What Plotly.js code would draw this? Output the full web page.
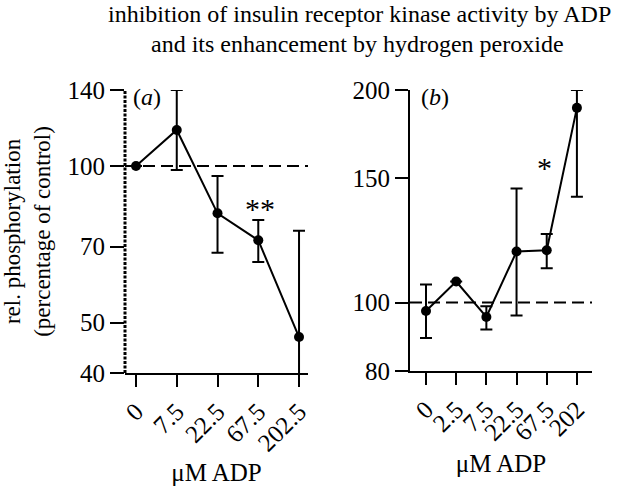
<!DOCTYPE html>
<html>
<head>
<meta charset="utf-8">
<script src="https://cdn.plot.ly/plotly-3.0.1.min.js"></script>
<style>html,body{margin:0;padding:0;background:#fff;}</style>
</head>
<body>
<div id="chart" style="width:621px;height:486px;"></div>
<script>
// Panel (a): ADP alone
const catsA = ['0', '7.5', '22.5', '67.5', '202.5'];
const valsA = [100, 117.3, 81.1, 72.0, 46.9];
const errUpA = [0, 22.7, 14.6, 6.7, 28.2];
const errDownA = [0, 19.1, 13.0, 6.6, 28.2];

// Panel (b): ADP with hydrogen peroxide
const catsB = ['0', '2.5', '7.5', '22.5', '67.5', '202'];
const valsB = [97.3, 107.1, 95.4, 118.1, 118.6, 188.7];
const errUpB = [8.8, 0, 3.4, 26.9, 6.5, 11.3];
const errDownB = [8.2, 0, 3.8, 22.2, 6.8, 47.5];

const ticksA = [40, 50, 70, 100, 140];
const ticksB = [80, 100, 150, 200];

const titleLines = ['inhibition of insulin receptor kinase activity by ADP',
                    'and its enhancement by hydrogen peroxide'];

const FONT = 'Liberation Serif';
const W = 621, H = 486;
const px = v => v / W;
const py = v => (H - v) / H;

function trace(x, y, up, down, xa, ya) {
  return {
    x: x, y: y, xaxis: xa, yaxis: ya,
    type: 'scatter', mode: 'lines+markers',
    line: {color: '#000', width: 2},
    marker: {color: '#000', size: 10},
    error_y: {type: 'data', symmetric: false, array: up, arrayminus: down,
              color: '#000', thickness: 2, width: 6},
    hoverinfo: 'x+y'
  };
}

const data = [
  trace(catsA, valsA, errUpA, errDownA, 'x', 'y'),
  trace(catsB, valsB, errUpB, errDownB, 'x2', 'y2')
];

const xCommon = {
  type: 'category', showline: true, linewidth: 2, linecolor: '#000',
  ticks: 'outside', ticklen: 12, tickwidth: 2, tickcolor: '#000',
  tickangle: -45, showgrid: false, zeroline: false, fixedrange: true,
  tickfont: {family: FONT, size: 25, color: '#000'}
};
const yCommon = {
  type: 'log', ticks: 'outside', tickwidth: 2, tickcolor: '#000',
  showgrid: false, zeroline: false, fixedrange: true,
  tickfont: {family: FONT, size: 25, color: '#000'}
};
const xTitleFont = {family: FONT, size: 25, color: '#000'};

const layout = {
  width: W, height: H,
  margin: {l: 0, r: 0, t: 0, b: 0},
  paper_bgcolor: '#fff', plot_bgcolor: '#fff',
  showlegend: false,
  font: {family: FONT, color: '#000'},
  xaxis: Object.assign({}, xCommon, {
    domain: [px(125), px(308)], range: [-0.27, 4.22], anchor: 'y',
    title: {text: 'μM ADP', standoff: 10, font: xTitleFont}
  }),
  yaxis: Object.assign({}, yCommon, {
    domain: [py(373), py(90)], anchor: 'x',
    range: [Math.log10(40), Math.log10(140)],
    tickvals: ticksA, ticktext: ticksA.map(String),
    ticklen: 14, showline: false,
    title: {text: 'rel. phosphorylation<br>(percentage of control)', standoff: 11,
            font: {family: FONT, size: 23, color: '#000'}}
  }),
  xaxis2: Object.assign({}, xCommon, {
    domain: [px(410), px(592)], range: [-0.53, 5.5], anchor: 'y2',
    title: {text: 'μM ADP', standoff: 10, font: xTitleFont}
  }),
  yaxis2: Object.assign({}, yCommon, {
    domain: [py(371), py(90)], anchor: 'x2',
    range: [Math.log10(80), Math.log10(200)],
    tickvals: ticksB, ticktext: ticksB.map(String),
    ticklen: 13, showline: true, linewidth: 2, linecolor: '#000'
  }),
  shapes: [
    {type: 'line', xref: 'x domain', yref: 'y', x0: 0, x1: 1, y0: 100, y1: 100,
     line: {color: '#000', width: 2, dash: '12px,6px'}},
    {type: 'line', xref: 'x2 domain', yref: 'y2', x0: 0, x1: 1, y0: 100, y1: 100,
     line: {color: '#000', width: 2, dash: '12px,6px'}},
    {type: 'line', xref: 'paper', yref: 'paper', x0: px(125), x1: px(125), y0: py(373), y1: py(90),
     line: {color: '#000', width: 3, dash: '3px,1.5px'}}
  ],
  annotations: [
    {text: titleLines[0], xref: 'paper', yref: 'paper', x: px(359), y: py(14),
     xanchor: 'center', yanchor: 'middle', showarrow: false,
     font: {family: FONT, size: 24, color: '#000'}},
    {text: titleLines[1], xref: 'paper', yref: 'paper', x: px(357), y: py(44),
     xanchor: 'center', yanchor: 'middle', showarrow: false,
     font: {family: FONT, size: 24, color: '#000'}},
    {text: '(<i>a</i>)', xref: 'paper', yref: 'paper', x: px(131), y: py(97),
     xanchor: 'left', yanchor: 'middle', showarrow: false,
     font: {family: FONT, size: 24, color: '#000'}},
    {text: '(<i>b</i>)', xref: 'paper', yref: 'paper', x: px(419), y: py(97),
     xanchor: 'left', yanchor: 'middle', showarrow: false,
     font: {family: FONT, size: 24, color: '#000'}},
    {text: '**', xref: 'paper', yref: 'paper', x: px(260), y: py(208),
     xanchor: 'center', yanchor: 'middle', showarrow: false,
     font: {family: FONT, size: 30, color: '#000'}},
    {text: '*', xref: 'paper', yref: 'paper', x: px(544), y: py(167),
     xanchor: 'center', yanchor: 'middle', showarrow: false,
     font: {family: FONT, size: 30, color: '#000'}}
  ]
};

Plotly.newPlot('chart', data, layout, {displayModeBar: false, staticPlot: true});
</script>
</body>
</html>
